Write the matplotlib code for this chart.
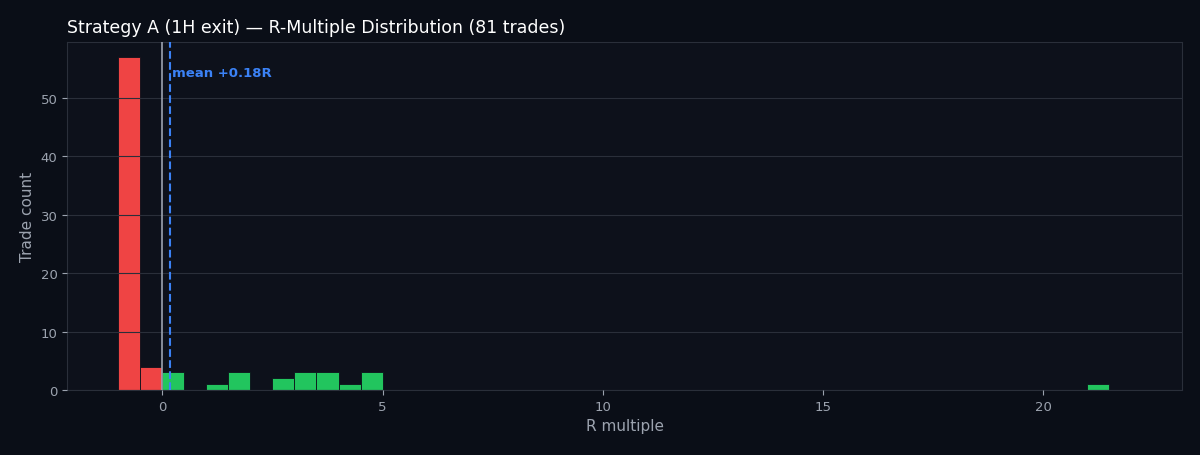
import matplotlib
matplotlib.use("Agg")
import matplotlib.pyplot as plt

# histogram bins (left edge, width 0.5) and counts
bin_left = [-1.0, -0.5, 0.0, 1.0, 1.5, 2.5, 3.0, 3.5, 4.0, 4.5, 21.0]
counts = [57, 4, 3, 1, 3, 2, 3, 3, 1, 3, 1]
mean_r = 0.18
n_trades = 81

bg = "#0a0e17"
ax_bg = "#0d111b"
fig = plt.figure(figsize=(12, 4.56), dpi=100, facecolor=bg)
ax = fig.add_axes([0.056, 0.1425, 0.929, 0.7635], facecolor=ax_bg)

colors = ["#ef4444" if b < 0 else "#22c55e" for b in bin_left]
ax.bar(bin_left, counts, width=0.5, align="edge", color=colors,
       edgecolor=ax_bg, linewidth=0.6, zorder=1)

ax.grid(axis="y", color="#2a2f3a", linewidth=0.8, zorder=2)
ax.set_axisbelow(False)
ax.axvline(0, color="#9ca3af", linewidth=1.2, zorder=3)
ax.axvline(mean_r, color="#3b82f6", linestyle="--", linewidth=1.5, zorder=3)
ax.text(mean_r + 0.03, 54.4, f"mean +{mean_r:.2f}R", color="#3b82f6",
        fontsize=9.5, fontweight="bold", va="center")

ax.set_xlim(-2.16, 23.15)
ax.set_ylim(0, 59.6)
ax.set_xticks([0, 5, 10, 15, 20])
ax.set_yticks([0, 10, 20, 30, 40, 50])
for s in ax.spines.values():
    s.set_color("#2a2f3a")
ax.tick_params(colors="#9ca3af", labelsize=9.5)
ax.set_xlabel("R multiple", color="#9ca3af", fontsize=11)
ax.set_ylabel("Trade count", color="#9ca3af", fontsize=11)
ax.set_title(f"Strategy A (1H exit) — R-Multiple Distribution ({n_trades} trades)",
             color="white", fontsize=12.5, loc="left", pad=7)

fig.savefig("out.png", facecolor=bg)
